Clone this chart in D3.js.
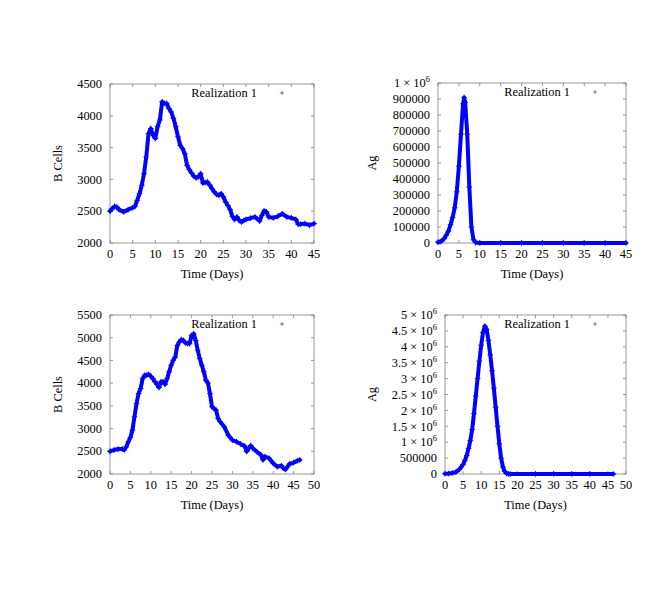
<!DOCTYPE html>
<html>
<head>
<meta charset="utf-8">
<script src="https://cdn.jsdelivr.net/npm/d3@7"></script>
<style>
body { margin: 0; background: #fff; }
text { font-family: "Liberation Serif", "DejaVu Serif", serif; font-size: 12.4px; fill: #000; }
.frame { fill: none; stroke: #808080; stroke-width: 0.8; }
.tick-line { stroke: #808080; stroke-width: 0.8; }
</style>
</head>
<body>
<script>
var width = 667;
var height = 595;

// Top-left: B cells, realization 1
var bDays1 = [0,0.5,1,1.5,2,3,4,5,5.5,6,6.5,7,7.5,8,8.5,9,9.5,10,10.5,11,11.5,12,12.5,13,13.5,14,14.5,15,15.5,16,16.5,17,17.5,18,18.5,19,19.5,20,20.5,21,21.5,22,22.5,23,23.5,24,24.5,25,25.5,26,26.5,27,27.5,28,28.5,29,29.5,30,31,32,33,33.5,34,34.5,35,36,37,38,39,40,41,41.5,42,43,44,45];
var bCells1 = [2500,2540,2575,2565,2525,2490,2525,2555,2575,2670,2775,2905,3090,3355,3720,3800,3695,3645,3830,3935,4220,4195,4195,4115,4060,3960,3830,3670,3535,3485,3405,3220,3155,3100,3050,3025,3040,3090,2945,2950,2960,2910,2855,2805,2765,2750,2775,2725,2645,2590,2525,2420,2370,2410,2355,2330,2355,2370,2390,2410,2345,2435,2505,2490,2410,2395,2420,2460,2410,2395,2370,2295,2295,2305,2280,2305];

// Top-right: antigen, realization 1
var agDays1 = [0,0.5,1,1.5,2,2.5,3,3.5,4,4.5,5,5.5,6,6.25,6.5,7,7.5,8,8.5,9,10,15,20,25,30,35,40,45];
var ag1 = [5000,8000,15000,28000,50000,75000,115000,160000,220000,320000,480000,680000,870000,910000,880000,680000,350000,100000,20000,3000,0,0,0,0,0,0,0,0];

// Bottom-left: B cells, second run
var bDays2 = [0,1,2,3,3.5,4,4.5,5,5.5,6,6.5,7,7.5,8,8.5,9,9.5,10,10.5,11,11.5,12,12.5,13,13.5,14,14.5,15,15.5,16,16.5,17,17.5,18,18.5,19,19.5,20,20.5,21,21.5,22,22.5,23,23.5,24,24.5,25,25.5,26,26.5,27,28,29,30,31,32,33,33.5,34,34.5,35,36,37,37.5,38,39,40,41,42,42.5,43,44,45,46,46.5];
var bCells2 = [2500,2530,2550,2550,2530,2600,2710,2805,2965,3260,3550,3770,3880,4100,4175,4175,4195,4150,4100,4030,3975,3905,4030,4030,3975,4100,4250,4395,4505,4575,4830,4905,4960,4940,4885,4870,4870,5050,5090,4940,4725,4540,4395,4250,4065,4005,3770,3480,3440,3405,3220,3150,3040,2855,2745,2710,2660,2615,2495,2565,2625,2565,2490,2420,2310,2385,2345,2235,2160,2185,2125,2100,2220,2250,2295,2310];

// Bottom-right: antigen, second run
var agDays2 = [0,1,2,3,4,5,5.5,6,6.5,7,7.5,8,8.5,9,9.5,10,10.5,11,11.5,12,12.5,13,13.5,14,14.5,15,15.5,16,16.5,17,17.5,18,25,30,35,40,46.5];
var ag2 = [10000,15000,30000,60000,150000,300000,430000,580000,800000,1050000,1400000,1900000,2450000,3000000,3550000,4050000,4450000,4650000,4550000,4200000,3750000,3250000,2700000,2100000,1500000,950000,500000,220000,80000,20000,5000,0,0,0,0,0,0];

var xTicks45 = [0,5,10,15,20,25,30,35,40,45];
var xTicks50 = [0,5,10,15,20,25,30,35,40,45,50];
var bTicks1 = [2000,2500,3000,3500,4000,4500];
var bTicks2 = [2000,2500,3000,3500,4000,4500,5000,5500];
var agTicks1 = [0,100000,200000,300000,400000,500000,600000,700000,800000,900000,1000000];
var agTicks2 = [0,500000,1000000,1500000,2000000,2500000,3000000,3500000,4000000,4500000,5000000];

var legendLabel = "Realization 1";
var xTitle = "Time (Days)";

var svg = d3.select("body")
    .append("svg")
    .attr("width", width)
    .attr("height", height);

// gnuplot-style tick label: plain number, or "m × 10^6" for the big ones
function tickLabel(sel, v) {
    if (v >= 1000000) {
        var m = v / 1000000;
        sel.text(m + " \u00d7 10");
        sel.append("tspan")
            .attr("dy", -5)
            .style("font-size", "8.5px")
            .text("6");
    } else {
        sel.text(v);
    }
}

function panel(p) {
    var x = d3.scaleLinear().domain(p.xDomain).range([p.left, p.right]);
    var y = d3.scaleLinear().domain(p.yDomain).range([p.bottom, p.top]);
    var g = svg.append("g");

    // ticks (inward, mirrored)
    p.xTicks.forEach(function(t) {
        g.append("line").attr("class", "tick-line")
            .attr("x1", x(t)).attr("x2", x(t))
            .attr("y1", p.bottom).attr("y2", p.bottom - 3);
        g.append("line").attr("class", "tick-line")
            .attr("x1", x(t)).attr("x2", x(t))
            .attr("y1", p.top).attr("y2", p.top + 3);
        g.append("text")
            .attr("x", x(t)).attr("y", p.bottom + 15)
            .attr("text-anchor", "middle")
            .text(t);
    });
    p.yTicks.forEach(function(t) {
        g.append("line").attr("class", "tick-line")
            .attr("x1", p.left).attr("x2", p.left + 3)
            .attr("y1", y(t)).attr("y2", y(t));
        g.append("line").attr("class", "tick-line")
            .attr("x1", p.right).attr("x2", p.right - 3)
            .attr("y1", y(t)).attr("y2", y(t));
        g.append("text")
            .attr("x", p.left - 8).attr("y", y(t) + 4.2)
            .attr("text-anchor", "end")
            .call(tickLabel, t);
    });

    g.append("rect").attr("class", "frame")
        .attr("x", p.left).attr("y", p.top)
        .attr("width", p.right - p.left).attr("height", p.bottom - p.top);

    var pts = p.days.map(function(d, i) { return [d, p.values[i]]; });
    var line = d3.line()
        .x(function(d) { return x(d[0]); })
        .y(function(d) { return y(d[1]); });

    g.append("path")
        .datum(pts)
        .attr("d", line)
        .attr("fill", "none")
        .attr("stroke", "#0000ff")
        .attr("stroke-width", 4)
        .attr("stroke-linejoin", "round")
        .attr("stroke-linecap", "round");

    g.selectAll(".pt")
        .data(pts)
        .enter()
        .append("path")
        .attr("class", "pt")
        .attr("transform", function(d) { return "translate(" + x(d[0]) + "," + y(d[1]) + ")"; })
        .attr("d", "M-2.8,0H2.8M0,-2.8V2.8")
        .attr("stroke", "#0000ff")
        .attr("stroke-width", 1);

    // legend
    var ly = p.top + 9;
    g.append("text")
        .attr("x", p.legendX).attr("y", ly + 4.2)
        .attr("text-anchor", "end")
        .text(legendLabel);
    g.append("path")
        .attr("transform", "translate(" + (p.legendX + 25) + "," + ly + ")")
        .attr("d", "M-1.8,0H1.8M0,-1.8V1.8")
        .attr("stroke", "#4040ff")
        .attr("stroke-width", 0.8);

    // axis titles
    g.append("text")
        .attr("x", (p.left + p.right) / 2).attr("y", p.bottom + 35)
        .attr("text-anchor", "middle")
        .text(xTitle);
    g.append("text")
        .attr("transform", "translate(" + p.yLabelX + "," + ((p.top + p.bottom) / 2) + ") rotate(-90)")
        .attr("text-anchor", "middle")
        .text(p.yTitle);
}

panel({left: 110, right: 314, top: 84, bottom: 243, xDomain: [0, 45], yDomain: [2000, 4500],
    xTicks: xTicks45, yTicks: bTicks1, days: bDays1, values: bCells1,
    legendX: 257, yLabelX: 62, yTitle: "B Cells"});
panel({left: 438, right: 626, top: 83, bottom: 243, xDomain: [0, 45], yDomain: [0, 1000000],
    xTicks: xTicks45, yTicks: agTicks1, days: agDays1, values: ag1,
    legendX: 570, yLabelX: 376, yTitle: "Ag"});
panel({left: 110, right: 314, top: 315, bottom: 474, xDomain: [0, 50], yDomain: [2000, 5500],
    xTicks: xTicks50, yTicks: bTicks2, days: bDays2, values: bCells2,
    legendX: 257, yLabelX: 62, yTitle: "B Cells"});
panel({left: 445, right: 626, top: 315, bottom: 474, xDomain: [0, 50], yDomain: [0, 5000000],
    xTicks: xTicks50, yTicks: agTicks2, days: agDays2, values: ag2,
    legendX: 570, yLabelX: 376, yTitle: "Ag"});
</script>
</body>
</html>
